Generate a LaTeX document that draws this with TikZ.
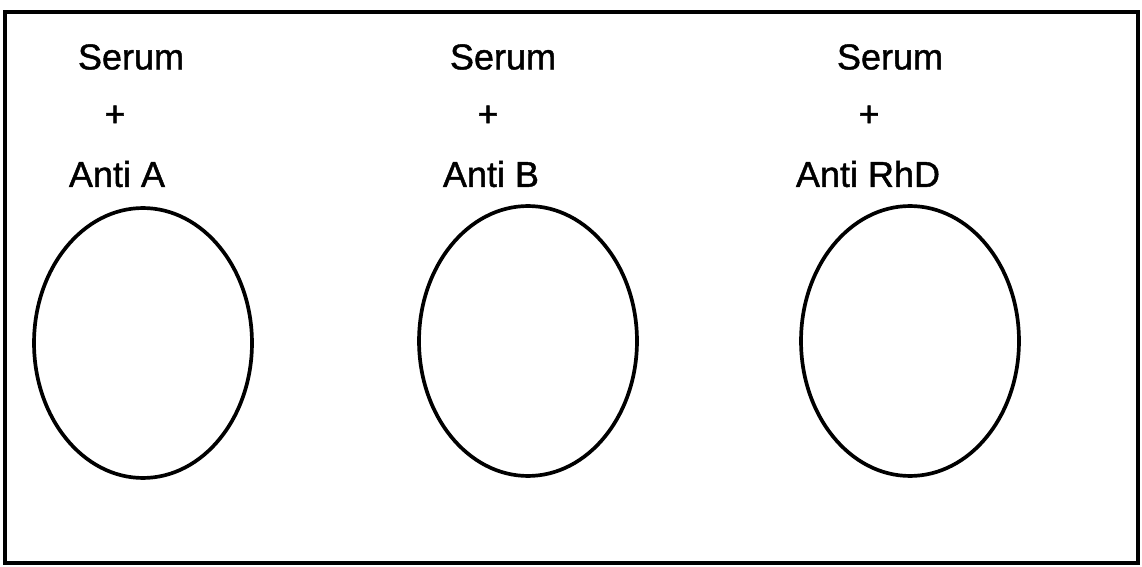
\documentclass[tikz,border=0pt]{standalone}
\usepackage{fontspec}
\setmainfont{Liberation Sans}
\newfontfamily\reagentfont{Liberation Sans}[FakeBold=1.2]
\usetikzlibrary{shapes.geometric}

\begin{document}
\begin{tikzpicture}[
    x=0.02cm, y=-0.02cm,
    reagent/.style={inner sep=0pt, font=\reagentfont\fontsize{20.5}{24}\selectfont},
    well/.style={ellipse, draw, line width=2.1pt, minimum width=4.36cm, minimum height=5.4cm, inner sep=0pt},
    plate/.style={draw, line width=2pt},
]
    \useasboundingbox (0,0) rectangle (1142,567);
    \draw[plate] (5,12) rectangle (1138,563);

    % Anti A
    \node[reagent] at (131,57) (serumA) {Serum};
    \node[reagent] at (115,116) (plusA) {+};
    \node[reagent] at (117,174) (antiA) {Anti A};
    \node[well] at (143,343) (wellA) {};

    % Anti B
    \node[reagent] at (503,57) (serumB) {Serum};
    \node[reagent] at (488,116) (plusB) {+};
    \node[reagent] at (491,174) (antiB) {Anti B};
    \node[well] at (528,341) (wellB) {};

    % Anti RhD
    \node[reagent] at (890,57) (serumD) {Serum};
    \node[reagent] at (869,116) (plusD) {+};
    \node[reagent] at (868,174) (antiD) {Anti RhD};
    \node[well] at (910,341) (wellD) {};
\end{tikzpicture}
\end{document}
